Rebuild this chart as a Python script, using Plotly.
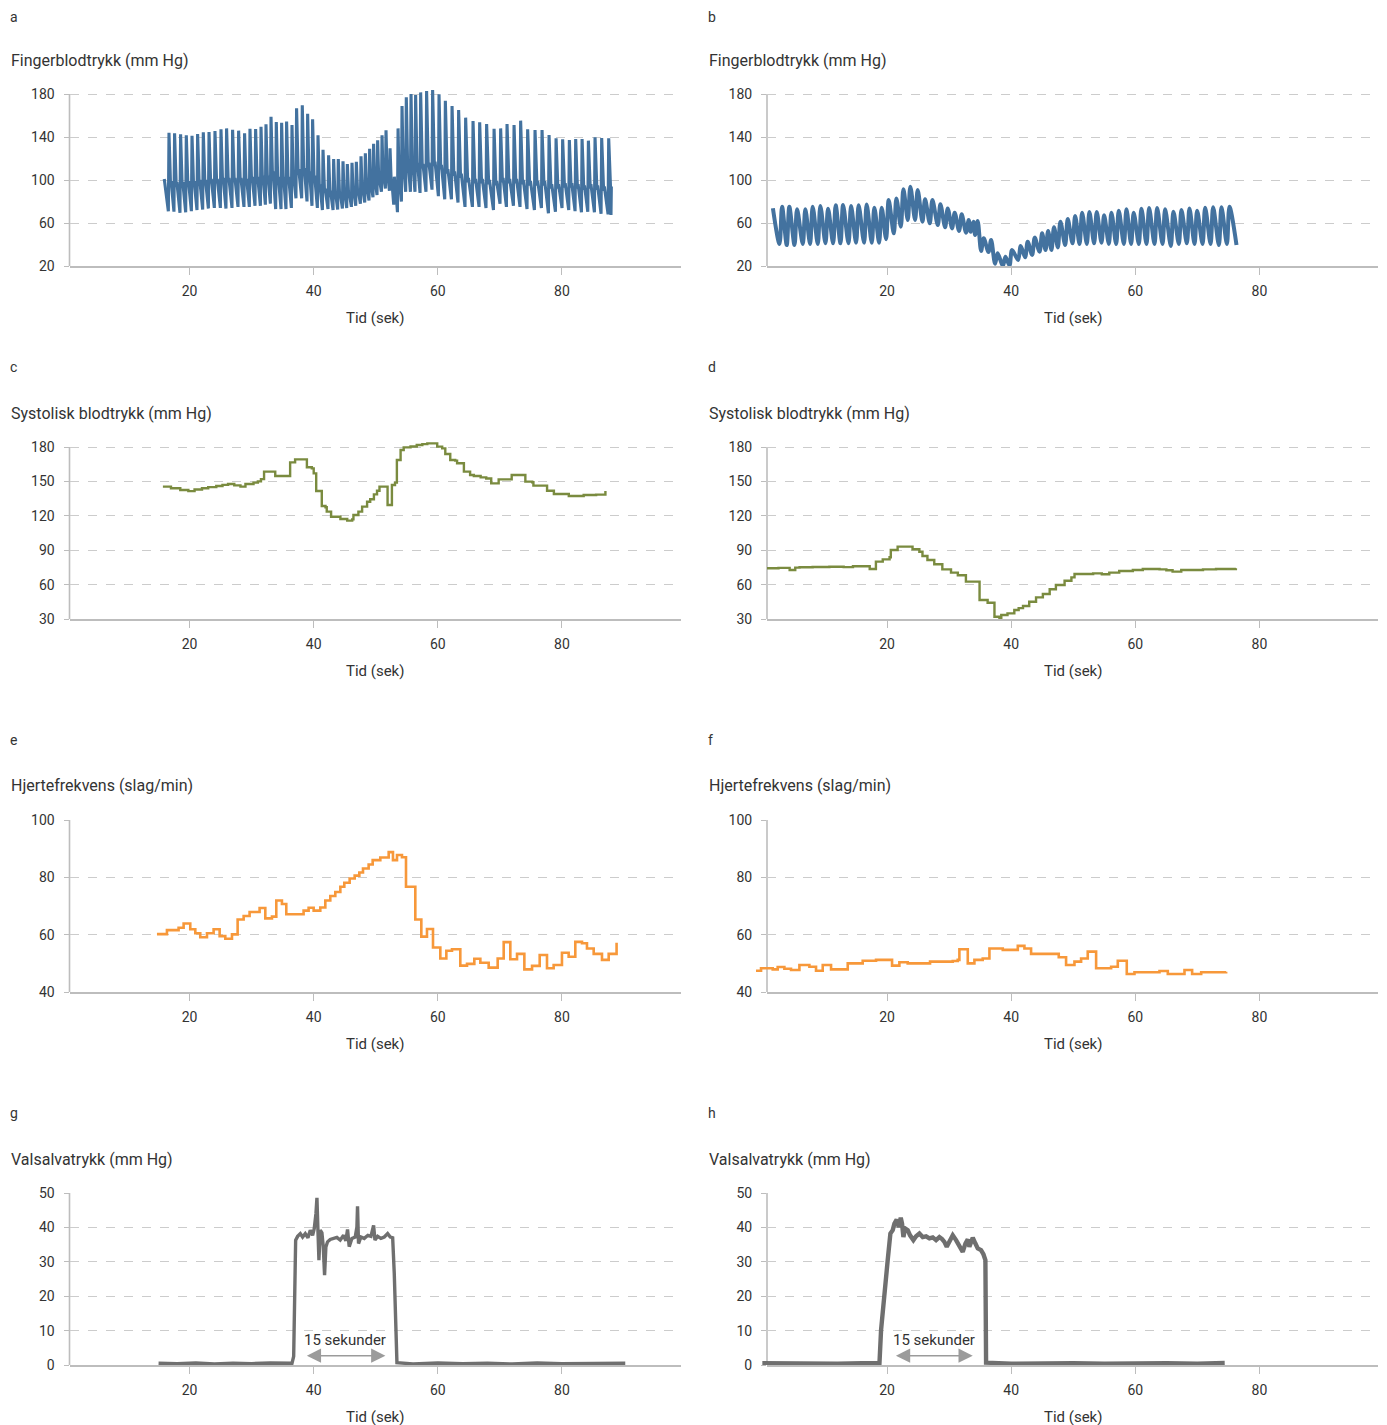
import plotly.graph_objects as go

W, H = 1387, 1425

# ---------------- data ----------------
# a: finger blood pressure, subject 1 (per beat: time of systolic peak, systolic, preceding diastolic, dicrotic notch)
a_t = [16.68, 17.58, 18.55, 19.47, 20.39, 21.29, 22.21, 23.13, 24.09, 25.06,
       25.96, 26.93, 27.90, 28.86, 29.73, 30.64, 31.51, 32.31, 33.12, 33.97,
       34.83, 35.63, 36.50, 37.24, 38.16, 39.02, 39.82, 40.69, 41.50, 42.40,
       43.21, 43.96, 44.72, 45.42, 46.17, 46.87, 47.62, 48.32, 49.01, 49.65,
       50.30, 51.01, 51.65, 52.30, 52.99, 53.59, 54.23, 54.92, 55.68, 56.42,
       57.23, 58.19, 59.16, 60.19, 61.21, 62.29, 63.35, 64.48, 65.67, 66.74,
       67.86, 69.06, 70.12, 71.15, 72.28, 73.34, 74.47, 75.66, 76.79, 77.92,
       79.05, 80.11, 81.19, 82.21, 83.24, 84.26, 85.33, 86.40, 87.53]
a_sys = [144, 143.4, 142.5, 141.6, 141.2, 142.8, 144.4, 144.7, 145.6, 147.1,
         148, 146.8, 145.9, 143.4, 147.7, 147.4, 149.6, 151.8, 158.9, 154,
         153.3, 154.3, 151.2, 166.7, 169.5, 161.7, 156.5, 141.6, 128.2, 123,
         119.5, 119.5, 117.4, 114.9, 116.1, 117, 122, 124.8, 129.1, 133.8,
         136.9, 141.6, 146.2, 129.5, 103.1, 148, 168.8, 176.9, 180, 179.1,
         181.5, 182.8, 183.7, 179.7, 173.8, 168.8, 165.1, 158, 154.9, 153.7,
         152.1, 147.7, 148, 152.1, 151.2, 155.2, 147.1, 146.5, 146.5, 141.9,
         138.8, 137.9, 137.2, 138.1, 138.1, 136.6, 139.7, 139.1, 138.8]
a_dia = [71, 70.5, 69.5, 70, 71, 72, 72.5, 73.5, 74, 74,
         73.5, 74, 75, 75, 75, 76, 76, 77, 78, 73,
         73, 73, 74, 83, 83, 80, 76, 74, 72, 73,
         72, 72.5, 73.5, 74, 75, 76, 78, 79, 81, 84,
         86, 89, 92, 90, 77, 70, 80, 89, 89, 89,
         88, 89, 91, 85, 82, 82, 79, 75, 75, 75,
         74, 72, 78, 75, 76, 75, 73, 72, 74, 69,
         70.5, 74, 72, 71, 70, 70.5, 70, 68.5, 68]
a_notch = [95, 94, 94, 95, 95, 96, 96, 97, 97, 98,
           98, 98, 98, 97, 99, 99, 100, 100, 104, 99,
           99, 99, 99, 106, 107, 104, 100, 92, 88, 86,
           85, 85, 84, 85, 86, 87, 88, 90, 92, 95,
           97, 100, 103, 97, 88, 95, 110, 113, 112, 112,
           111, 112, 113, 110, 106, 104, 102, 98, 97, 97,
           96, 95, 98, 97, 97, 96, 95, 95, 95, 92,
           92, 93, 93, 92, 91, 92, 91, 90, 90]
a_first = (15.92, 100.9)
a_last = (87.9, 67.5)

# b: finger blood pressure, subject 2
b_t = [3.08, 4.25, 5.50, 6.83, 8.01, 9.25, 10.49, 11.72, 12.91, 14.20,
       15.42, 16.71, 17.95, 19.13, 20.26, 21.50, 22.63, 23.75, 24.93, 26.12,
       27.30, 28.59, 29.77, 30.89, 32.02, 33.15, 33.91, 34.60, 35.57, 36.76,
       37.82, 39.07, 40.14, 41.53, 42.66, 43.79, 44.98, 45.95, 46.90, 47.93,
       49.11, 50.30, 51.43, 52.60, 53.78, 54.97, 56.15, 57.33, 58.57, 59.74,
       60.98, 62.22, 63.51, 64.80, 66.14, 67.43, 68.72, 69.96, 71.25, 72.54,
       73.88, 75.17]
b_sys = [75.2, 75.2, 72.7, 72.7, 75.2, 75.8, 73.3, 76.4, 76.7, 75.8,
         76.4, 77.1, 74.3, 74.3, 81.4, 82.9, 91.3, 93.8, 90.7, 82.0,
         81.4, 77.4, 73.6, 69.6, 68.1, 62.8, 61.2, 61.9, 45.7, 44.2,
         31.8, 28.7, 34.9, 38.6, 42.6, 46.4, 50.4, 52.6, 56.0, 61.2,
         63.7, 66.5, 69.6, 70.2, 70.2, 67.1, 69.6, 71.5, 72.7, 69.6,
         73.3, 73.9, 73.9, 72.7, 70.5, 72.0, 73.6, 71.5, 74.3, 74.6,
         74.6, 75.2]
b_dia = [40.5, 39.5, 39.5, 40.5, 40.5, 40.5, 41.1, 41.1, 41.1, 41.1,
         41.7, 41.7, 41.7, 41.7, 45.0, 50.4, 56.6, 62.8, 62.8, 61.2,
         59.7, 58.1, 56.0, 55.0, 52.6, 51.0, 51.9, 48.8, 34.0, 33.0,
         22.0, 20.0, 20.5, 25.6, 28.1, 30.2, 33.3, 34.9, 34.9, 37.3,
         39.5, 41.1, 40.5, 40.5, 41.1, 41.7, 40.5, 40.5, 40.5, 40.5,
         40.5, 40.5, 40.5, 40.5, 38.6, 40.5, 41.1, 40.5, 40.5, 40.5,
         39.5, 40.5]
b_first = (1.6, 73.7)
b_last = (76.3, 39.5)

# c: systolic blood pressure, subject 1 (stepwise)
c_t = [15.7, 17.0, 18.5, 19.8, 20.8, 22.0, 23.0, 24.3, 25.3, 26.2,
       27.2, 28.2, 29.0, 30.3, 31.0, 31.5, 32.0, 33.8, 36.2, 37.0,
       38.9, 39.7, 40.0, 40.4, 41.3, 41.9, 42.1, 42.8, 44.3, 45.4,
       46.2, 46.4, 47.2, 47.8, 48.6, 49.1, 49.7, 50.2, 50.6, 51.9,
       52.6, 53.1, 53.4, 54.0, 54.5, 55.6, 56.6, 57.5, 58.3, 59.9,
       60.7, 61.2, 62.0, 62.8, 63.1, 64.2, 65.2, 65.8, 66.9, 67.8,
       68.6, 69.8, 71.9, 74.1, 75.2, 75.4, 77.6, 78.7, 81.1, 83.5,
       85.5, 87.0]
c_v = [145.4, 144, 142.5, 141.5, 143, 144, 145, 146, 147, 147.7,
       146.5, 145.4, 147.7, 148.9, 150, 152, 158.5, 154.7, 166.6, 169.2,
       162.3, 161.4, 157, 141.6, 128.5, 127.4, 123.6, 119.2, 117.2, 115.8,
       116.9, 120.7, 123.6, 128, 132.3, 134.4, 138.7, 141.9, 145.4, 129.4,
       146.9, 148.9, 168.7, 177.4, 179.7, 180.5, 181.7, 182.5, 183.2, 180.3,
       178.8, 173.9, 168.7, 168.1, 165.8, 158.5, 155.6, 154.7, 153.5, 152.5,
       148.3, 151.8, 155.6, 149.8, 149.2, 146.3, 141.9, 139.0, 137.3, 138.1,
       138.5, 141.6]

# d: systolic blood pressure, subject 2
d_t = [0.6, 2.5, 4.3, 5.2, 5.9, 8.0, 10.7, 13.0, 14.5, 17.2,
       18.2, 19.3, 20.4, 20.6, 21.7, 24.1, 25.2, 25.7, 26.5, 27.6,
       28.9, 30.3, 31.4, 32.7, 34.9, 36.2, 37.3, 38.1, 38.4, 39.4,
       40.5, 41.2, 41.9, 42.9, 44.0, 45.1, 46.2, 47.2, 48.6, 49.7,
       50.2, 53.2, 54.6, 55.8, 57.4, 59.6, 61.2, 63.9, 65.0, 66.0,
       67.4, 70.9, 73.0, 76.2]
d_v = [74.2, 74.6, 72.7, 74.8, 75.1, 75.3, 75.6, 75.2, 76.0, 73.6,
       80.0, 82.0, 83.8, 90.2, 93.1, 90.8, 88.7, 84.9, 81.4, 77.7,
       73.3, 70.4, 68.1, 62.6, 46.6, 44.2, 32.0, 30.6, 33.5, 34.9,
       37.8, 39.5, 41.3, 45.1, 48.9, 51.8, 55.9, 59.6, 63.4, 66.3,
       69.2, 69.8, 69.0, 70.4, 71.9, 72.7, 73.6, 73.3, 72.5, 71.3,
       72.7, 73.3, 73.6, 74.2]

# e: heart rate, subject 1
e_t = [14.74, 16.35, 18.23, 19.04, 20.11, 20.92, 21.72, 22.80, 23.87, 24.84,
       25.75, 26.83, 27.74, 28.71, 29.67, 31.28, 32.20, 33.27, 33.97, 34.88,
       35.58, 38.37, 39.18, 39.99, 41.06, 41.87, 42.67, 43.48, 44.29, 44.93,
       45.79, 46.60, 47.35, 47.94, 48.85, 49.50, 50.73, 52.08, 52.77, 53.42,
       54.22, 54.87, 56.37, 57.34, 58.25, 59.22, 60.40, 61.37, 62.28, 63.62,
       64.70, 65.88, 66.85, 68.19, 69.64, 70.61, 71.68, 72.76, 73.94, 75.18,
       76.41, 77.59, 78.66, 80.00, 81.08, 82.15, 83.23, 84.03, 85.11, 86.45,
       87.53, 88.80]
e_v = [60.2, 61.6, 62.4, 63.9, 61.9, 60.5, 59.1, 60.5, 61.9, 59.5,
       58.6, 60.1, 65.3, 66.5, 67.9, 69.3, 65.7, 66.3, 71.9, 70.7,
       67.1, 68.4, 69.4, 68.4, 69.5, 71.9, 73.5, 74.9, 76.7, 78.1,
       79.6, 80.6, 81.7, 83.1, 84.5, 86.0, 86.9, 88.8, 86.0, 87.8,
       87.0, 76.7, 65.3, 59.3, 62.0, 55.5, 51.7, 54.4, 54.9, 49.2,
       49.8, 51.6, 50.2, 48.5, 51.7, 57.4, 51.4, 53.3, 47.9, 49.1,
       52.9, 48.3, 49.4, 53.7, 52.3, 57.5, 57.0, 55.2, 53.3, 51.2,
       53.3, 57.2]

# f: heart rate, subject 2
f_t = [-1.12, -0.31, 1.57, 2.37, 3.45, 4.52, 5.87, 7.48, 8.55, 9.63,
       10.97, 13.66, 16.07, 18.22, 20.80, 21.98, 23.32, 26.92, 30.58, 31.38,
       31.65, 33.00, 34.07, 35.41, 36.49, 38.64, 41.06, 42.13, 43.20, 47.66,
       48.84, 50.19, 51.26, 52.33, 53.68, 56.10, 57.17, 58.62, 59.86, 63.89,
       65.23, 67.92, 69.15, 70.61, 74.63]
f_v = [47.4, 48.3, 47.9, 48.7, 48.1, 47.7, 49.4, 48.8, 47.4, 49.4,
       47.9, 50.0, 50.9, 51.2, 49.2, 50.4, 50.0, 50.6, 50.8, 51.2,
       54.9, 50.0, 51.2, 51.7, 55.2, 54.7, 56.1, 55.2, 53.3, 52.1,
       49.4, 50.6, 51.7, 54.1, 48.3, 48.8, 50.9, 46.3, 46.9, 47.3,
       46.3, 47.7, 46.3, 46.9, 47.1]

# g: Valsalva pressure, subject 1
g_t = [15.0, 18.0, 21.0, 24.0, 27.0, 30.0, 33.0, 36.5,
       36.77, 37.09, 37.41, 37.84, 38.21, 38.64, 39.07, 39.45, 39.82, 40.09,
       40.36, 40.52, 40.68, 40.84, 41.05, 41.32, 41.54, 41.75, 41.96, 42.23,
       42.66, 43.20, 43.73, 44.27, 44.81, 45.18, 45.45, 45.72, 46.15, 46.69,
       46.96, 47.06, 47.22, 47.60, 48.14, 48.73, 49.22, 49.65, 49.87, 50.30,
       50.83, 51.37, 51.91, 52.34, 52.72, 52.98, 53.20, 53.41,
       56.0, 60.0, 64.0, 68.0, 72.0, 76.0, 80.0, 84.0, 88.0, 90.2]
g_v = [0.5, 0.4, 0.6, 0.3, 0.5, 0.4, 0.6, 0.5,
       2.5, 36.3, 37.4, 38.2, 37.2, 38.2, 37.0, 39.2, 37.7, 39.7,
       44.0, 48.6, 39.2, 30.5, 39.2, 38.4, 34.4, 26.1, 34.3, 35.8,
       36.5, 36.8, 37.1, 36.3, 37.7, 36.1, 39.4, 34.4, 36.8, 37.2,
       40.1, 46.1, 35.3, 37.2, 36.8, 37.7, 37.4, 40.6, 36.3, 37.4,
       36.8, 37.2, 38.2, 37.2, 37.0, 26.6, 11.2, 0.7,
       0.3, 0.6, 0.4, 0.5, 0.3, 0.6, 0.4, 0.5, 0.4, 0.5]

# h: Valsalva pressure, subject 2
h_t = [-0.1, 4.0, 8.0, 12.0, 16.0, 18.77,
       19.03, 19.56, 20.10, 20.53, 20.91, 21.18, 21.55, 21.88, 22.20, 22.41,
       22.63, 22.90, 23.33, 23.70, 24.24, 24.67, 25.21, 25.74, 26.28, 26.82,
       27.36, 27.89, 28.43, 28.86, 29.23, 29.61, 30.04, 30.58, 31.11, 31.65,
       32.19, 32.62, 33.00, 33.26, 33.80, 34.23, 34.61, 35.14, 35.52, 35.84,
       35.95, 40.0, 45.0, 50.0, 55.0, 60.0, 65.0, 70.0, 74.4]
h_v = [0.5, 0.4, 0.6, 0.4, 0.5, 0.5,
       10.2, 21.8, 30.5, 38.2, 39.2, 41.1, 42.3, 40.1, 42.8, 41.1,
       37.2, 39.7, 39.2, 37.7, 36.3, 37.4, 38.2, 37.2, 37.4, 36.8,
       37.1, 36.3, 37.2, 36.6, 35.8, 34.4, 35.8, 37.7, 36.3, 34.4,
       32.9, 35.3, 36.5, 34.4, 37.0, 35.3, 33.9, 33.4, 32.2, 30.5,
       0.7, 0.4, 0.6, 0.5, 0.4, 0.6, 0.5, 0.4, 0.6]

# annotation "15 sekunder" arrows (time from, time to)
g_arrow = [38.65, 51.55]
h_arrow = [21.18, 33.80]

letters = ["a", "b", "c", "d", "e", "f", "g", "h"]
titles = ["Fingerblodtrykk (mm Hg)", "Systolisk blodtrykk (mm Hg)",
          "Hjertefrekvens (slag/min)", "Valsalvatrykk (mm Hg)"]
xtitle = "Tid (sek)"
y_ticks = [[20, 60, 100, 140, 180], [30, 60, 90, 120, 150, 180],
           [40, 60, 80, 100], [0, 10, 20, 30, 40, 50]]
x_ticks = [20, 40, 60, 80]

# ---------------- style / geometry ----------------
BLUE = "#43729f"
GREEN = "#7a8b3f"
ORANGE = "#f7983a"
GREY = "#6f6f6f"
AXC = "#bdbdbd"
GRIDC = "#cccccc"
TXT = "#333333"
FONT = "Roboto, Noto Sans, sans-serif"

MT, MB = 8, 8          # figure margins
OFF = 8                # page offset of the figure
XR = [0.65, 99.1]
PX_PER_UNIT_X = 6.205
col_px = [(69.5, 680.5), (767.0, 1378.0)]
row_px = [(94, 266), (447, 619), (820, 992), (1193, 1365)]
y_headroom = [6, 6, 0, 0]   # extra units above top tick (lines may exceed it)
left_ext = [0, 0, 0, 0, 0, 2.0, 0, 1.0]   # extra units left of axis for some traces


def fx(p):
    return (p - OFF) / W


def fy(p):
    return 1 - (p - OFF - MT) / (H - MT - MB)


def pulse_a(tp, s, d, n, first, last):
    xs, ys = [first[0]], [first[1]]
    for i in range(len(tp)):
        dt = (tp[i + 1] - tp[i]) if i + 1 < len(tp) else (tp[i] - tp[i - 1])
        xs += [tp[i] - 0.1, tp[i], tp[i] + 0.28 * dt, tp[i] + 0.38 * dt]
        ys += [d[i], s[i], n[i], n[i] + 4]
    xs.append(last[0]); ys.append(last[1])
    return xs, ys


def pulse_b(tp, s, d, first, last):
    xs, ys = [first[0]], [first[1]]
    for i in range(len(tp)):
        xs += [tp[i] - 0.42, tp[i]]
        ys += [d[i], s[i]]
    xs.append(last[0]); ys.append(last[1])
    return xs, ys


fig = go.Figure()

ax_x, ax_y = pulse_a(a_t, a_sys, a_dia, a_notch, a_first, a_last)
bx, by = pulse_b(b_t, b_sys, b_dia, b_first, b_last)

traces = [
    (ax_x, ax_y, BLUE, 3.1, "linear"),
    (bx, by, BLUE, 4.0, "spline"),
    (c_t, c_v, GREEN, 2.4, "hv"),
    (d_t, d_v, GREEN, 2.4, "hv"),
    (e_t, e_v, ORANGE, 2.6, "hv"),
    (f_t, f_v, ORANGE, 2.6, "hv"),
    (g_t, g_v, GREY, 3.4, "linear"),
    (h_t, h_v, GREY, 4.4, "linear"),
]

layout = dict(width=W, height=H, margin=dict(l=0, r=0, t=MT, b=MB, pad=0),
              paper_bgcolor="white", plot_bgcolor="rgba(0,0,0,0)", showlegend=False,
              font=dict(family=FONT, size=14, color=TXT))
annotations = []
shapes = []
extra_axis = 9

for k, (xs, ys, col, lw, shape) in enumerate(traces):
    r, c = divmod(k, 2)
    idx = k + 1
    sfx = "" if idx == 1 else str(idx)
    x0, x1 = col_px[c]
    y0, y1 = row_px[r]
    yt = y_ticks[r]
    pxu_y = (y1 - y0) / (yt[-1] - yt[0])
    ytop = yt[-1] + y_headroom[r]
    y0_ext = y0 - y_headroom[r] * pxu_y
    yrange = [yt[0], ytop]
    ydom = [fy(y1), fy(y0_ext)]

    layout["xaxis" + sfx] = dict(
        domain=[fx(x0), fx(x1)], anchor="y" + sfx, range=XR,
        tickvals=x_ticks, showgrid=False, zeroline=False,
        showline=True, linecolor=AXC, linewidth=1.6,
        ticks="outside", ticklen=7, tickwidth=1.4, tickcolor=AXC,
        tickfont=dict(size=14, color=TXT, family=FONT), ticklabelstandoff=4,
        fixedrange=True)
    layout["yaxis" + sfx] = dict(
        domain=ydom, anchor="x" + sfx, range=yrange,
        tickvals=yt, showgrid=True, gridcolor=GRIDC, griddash="dash", gridwidth=1,
        zeroline=False, showline=False,
        ticks="outside", ticklen=5, tickwidth=1.4, tickcolor=AXC,
        tickfont=dict(size=14, color=TXT, family=FONT), ticklabelstandoff=6,
        fixedrange=True)
    # y-axis line only up to the top tick
    shapes.append(dict(type="line", xref="x" + sfx + " domain", yref="y" + sfx,
                       x0=0, x1=0, y0=yt[0], y1=yt[-1],
                       line=dict(color=AXC, width=1.6), layer="below"))

    txa, tya = "x" + sfx, "y" + sfx
    if left_ext[k] > 0:
        n = str(extra_axis)
        extra_axis += 1
        ext = left_ext[k]
        layout["xaxis" + n] = dict(domain=[fx(x0 - ext * PX_PER_UNIT_X), fx(x1)],
                                   range=[XR[0] - ext, XR[1]], anchor="y" + n,
                                   visible=False, fixedrange=True)
        layout["yaxis" + n] = dict(domain=ydom, range=yrange, anchor="x" + n,
                                   visible=False, fixedrange=True)
        txa, tya = "x" + n, "y" + n

    line = dict(color=col, width=lw, shape=shape)
    if shape == "spline":
        line["smoothing"] = 0.9
    fig.add_trace(go.Scatter(x=xs, y=ys, mode="lines", line=line,
                             xaxis=txa, yaxis=tya, hoverinfo="skip"))

    # panel letter (kept fully inside the page at the top row)
    lx = 8 if c == 0 else 706
    ly = max(y0 - 80, 17)
    annotations.append(dict(text=letters[k], x=fx(lx), y=fy(ly),
                            xref="paper", yref="paper", xanchor="left", yanchor="middle",
                            showarrow=False, font=dict(size=14, color=TXT, family=FONT)))
    # panel title
    tx = 9 if c == 0 else 707
    annotations.append(dict(text=titles[r], x=fx(tx), y=fy(y0 - 34),
                            xref="paper", yref="paper", xanchor="left", yanchor="middle",
                            showarrow=False, font=dict(size=16, color=TXT, family=FONT)))
    # x-axis title
    annotations.append(dict(text=xtitle, x=fx((x0 + x1) / 2), y=fy(y1 + 52),
                            xref="paper", yref="paper", xanchor="center", yanchor="middle",
                            showarrow=False, font=dict(size=15, color=TXT, family=FONT)))

for sfx, arr in (("7", g_arrow), ("8", h_arrow)):
    annotations.append(dict(x=arr[1], y=2.7, ax=arr[0], ay=2.7,
                            xref="x" + sfx, yref="y" + sfx, axref="x" + sfx, ayref="y" + sfx,
                            text="", showarrow=True, arrowhead=2, arrowside="end+start",
                            arrowsize=1.9, arrowwidth=1.5, arrowcolor="#9b9b9b",
                            standoff=0, startstandoff=0))
    annotations.append(dict(x=(arr[0] + arr[1]) / 2, y=7.2, xref="x" + sfx, yref="y" + sfx,
                            text="15 sekunder", showarrow=False, xanchor="center",
                            yanchor="middle", font=dict(size=15, color=TXT, family=FONT)))

layout["annotations"] = annotations
layout["shapes"] = shapes
fig.update_layout(**layout)
fig.write_html("out.html")
